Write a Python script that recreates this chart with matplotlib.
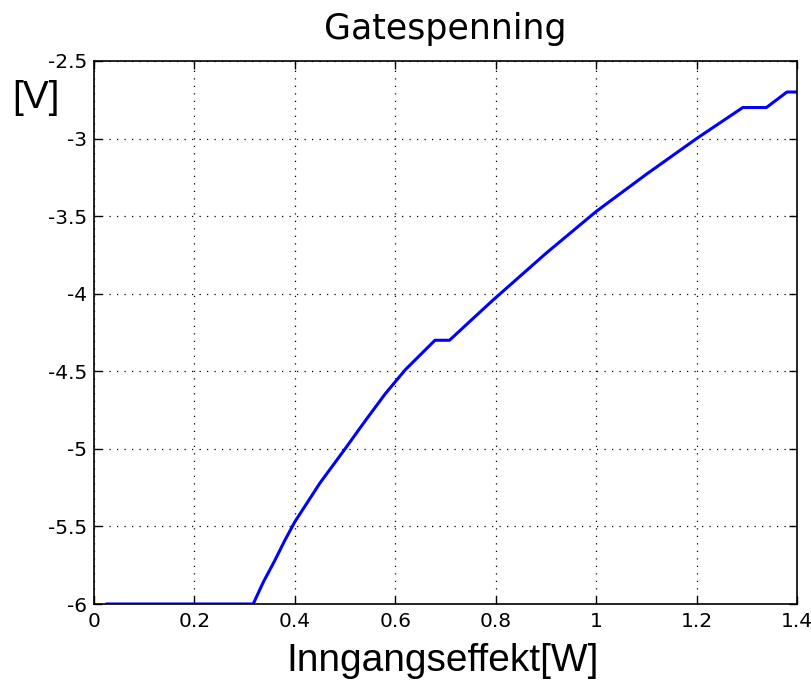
import matplotlib
matplotlib.use("Agg")
import matplotlib.pyplot as plt

# Gate voltage versus input power
power_w = [0.026, 0.10, 0.20, 0.317, 0.337, 0.36, 0.38, 0.40, 0.45, 0.50, 0.54,
           0.58, 0.62, 0.679, 0.708, 0.752, 0.795, 0.90,
           1.00, 1.10, 1.20, 1.292, 1.339, 1.38, 1.40]
gate_v = [-6.0, -6.0, -6.0, -6.0, -5.86, -5.72, -5.59, -5.47, -5.22, -5.0, -4.82,
          -4.645, -4.49, -4.30, -4.30, -4.168, -4.04, -3.74,
          -3.47, -3.23, -3.00, -2.80, -2.80, -2.70, -2.70]

x_ticks = [0, 0.2, 0.4, 0.6, 0.8, 1.0, 1.2, 1.4]
x_tick_labels = ["0", "0.2", "0.4", "0.6", "0.8", "1", "1.2", "1.4"]
y_ticks = [-6, -5.5, -5, -4.5, -4, -3.5, -3, -2.5]
y_tick_labels = ["-6", "-5.5", "-5", "-4.5", "-4", "-3.5", "-3", "-2.5"]

plt.rcParams["font.family"] = ["DejaVu Sans"]

fig = plt.figure(figsize=(8.12, 6.81), dpi=100)
ax = fig.add_axes([94 / 812, 1 - 604 / 681, (797 - 94) / 812, (604 - 61) / 681])

ax.plot(power_w, gate_v, color="#0000ff", linewidth=2.2)

ax.set_xlim(0, 1.4)
ax.set_ylim(-6, -2.5)
ax.set_xticks(x_ticks)
ax.set_xticklabels(x_tick_labels)
ax.set_yticks(y_ticks)
ax.set_yticklabels(y_tick_labels)
ax.tick_params(direction="in", top=True, right=True, length=6, width=1,
               labelsize=14.5)
ax.tick_params(axis="x", pad=6)
ax.tick_params(axis="y", pad=5)
ax.grid(True, color="black", linestyle=(0, (1, 5)), linewidth=0.9)
for s in ax.spines.values():
    s.set_linewidth(1.2)

ax.set_title("Gatespenning", fontsize=25, pad=16)
fig.text(443 / 812, 1 - 671 / 681, "Inngangseffekt[W]", fontsize=28,
         ha="center", va="baseline", family=["Liberation Sans", "DejaVu Sans"])
fig.text(36 / 812, 1 - 98 / 681, "[V]", fontsize=28, ha="center", va="center",
         family=["Liberation Sans", "DejaVu Sans"])

fig.savefig("out.png", dpi=100)
